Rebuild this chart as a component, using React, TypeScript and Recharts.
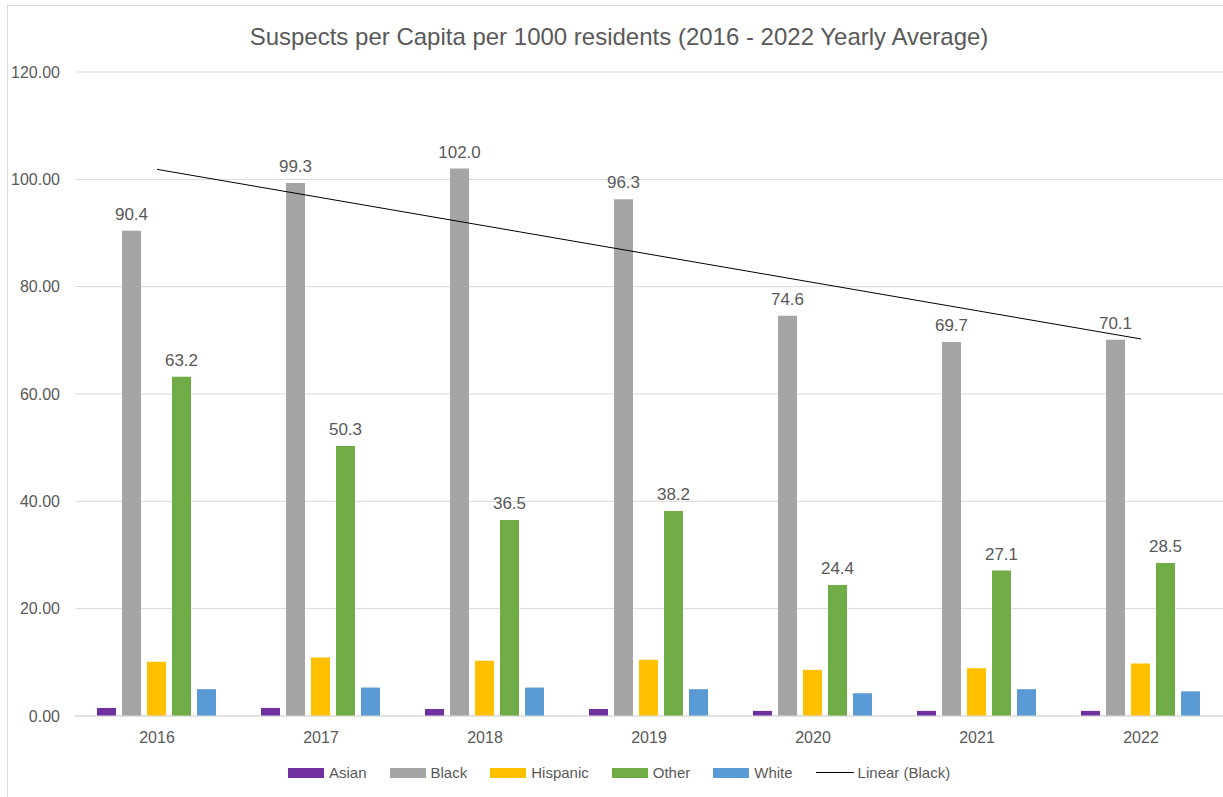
import { Bar, ComposedChart, CartesianGrid, LabelList, Legend, Line, XAxis, YAxis } from "recharts"

// values
const years = ["2016", "2017", "2018", "2019", "2020", "2021", "2022"]
const asian = [1.5, 1.5, 1.3, 1.3, 0.95, 0.95, 0.95]
const black = [90.4, 99.3, 102.0, 96.3, 74.6, 69.7, 70.1]
const hispanic = [10.1, 10.9, 10.3, 10.5, 8.6, 8.9, 9.8]
const other = [63.2, 50.3, 36.5, 38.2, 24.4, 27.1, 28.5]
const white = [5.0, 5.3, 5.3, 5.0, 4.25, 5.0, 4.6]
const yTicks = [0, 20, 40, 60, 80, 100, 120]

const FONT = "'Liberation Sans', Arial, sans-serif"
const TEXT = "#595959"

// least squares fit of the Black series, like Excel's "Linear (Black)" trendline
const fitLine = (ys: number[]) => {
  const n = ys.length
  const mx = (n - 1) / 2
  const my = ys.reduce((a, b) => a + b, 0) / n
  let num = 0
  let den = 0
  ys.forEach((y, i) => {
    num += (i - mx) * (y - my)
    den += (i - mx) * (i - mx)
  })
  const slope = num / den
  return ys.map((_, i) => my + slope * (i - mx))
}
const trend = fitLine(black)

const data = years.map((year, i) => ({
  year,
  asian: asian[i],
  black: black[i],
  hispanic: hispanic[i],
  other: other[i],
  white: white[i],
  trend: trend[i],
}))

const legendItems = [
  { name: "Asian", color: "#7030A0", line: false },
  { name: "Black", color: "#A5A5A5", line: false },
  { name: "Hispanic", color: "#FFC000", line: false },
  { name: "Other", color: "#70AD47", line: false },
  { name: "White", color: "#5B9BD5", line: false },
  { name: "Linear (Black)", color: "#000000", line: true },
]

const ChartLegend = () => (
  <div
    style={{
      display: "flex",
      alignItems: "center",
      paddingLeft: 280,
      marginTop: 8,
      fontFamily: FONT,
      fontSize: 15,
      color: TEXT,
    }}
  >
    {legendItems.map((item) => (
      <div key={item.name} style={{ display: "flex", alignItems: "center", marginRight: 23 }}>
        {item.line ? (
          <div style={{ width: 38, height: 1, background: item.color, marginRight: 4 }} />
        ) : (
          <div style={{ width: 36, height: 10, background: item.color, marginRight: 5 }} />
        )}
        <span>{item.name}</span>
      </div>
    ))}
  </div>
)

const labelStyle = { fill: TEXT, fontSize: 17, fontFamily: FONT }

export default function App() {
  return (
    <div
      style={{
        position: "fixed",
        left: 7,
        top: 5,
        width: 1240,
        height: 810,
        border: "1px solid #d9d9d9",
        background: "#fff",
      }}
    >
      <div
        style={{
          position: "absolute",
          top: 17,
          left: 0,
          width: 1222,
          textAlign: "center",
          fontFamily: FONT,
          fontSize: 24,
          color: TEXT,
        }}
      >
        Suspects per Capita per 1000 residents (2016 - 2022 Yearly Average)
      </div>
      <ComposedChart
        width={1215}
        height={791}
        data={data}
        margin={{ top: 66, right: 0, left: 0, bottom: 11 }}
        barCategoryGap={22}
        barGap={6}
      >
        <CartesianGrid vertical={false} stroke="#d9d9d9" />
        <XAxis
          dataKey="year"
          height={40}
          tickLine={false}
          axisLine={{ stroke: "#d9d9d9" }}
          tickMargin={10}
          tick={{ fill: TEXT, fontSize: 16, fontFamily: FONT }}
        />
        <YAxis
          width={67}
          domain={[0, 120]}
          ticks={yTicks}
          axisLine={false}
          tickLine={false}
          tickMargin={9}
          tickFormatter={(v: number) => v.toFixed(2)}
          tick={{ fill: TEXT, fontSize: 16, fontFamily: FONT }}
        />
        <Legend verticalAlign="bottom" height={30} content={() => <ChartLegend />} />
        <Bar dataKey="asian" name="Asian" fill="#7030A0" isAnimationActive={false} />
        <Bar dataKey="black" name="Black" fill="#A5A5A5" isAnimationActive={false}>
          <LabelList
            dataKey="black"
            position="top"
            offset={11}
            formatter={(v: number) => v.toFixed(1)}
            style={labelStyle}
          />
        </Bar>
        <Bar dataKey="hispanic" name="Hispanic" fill="#FFC000" isAnimationActive={false} />
        <Bar dataKey="other" name="Other" fill="#70AD47" isAnimationActive={false}>
          <LabelList
            dataKey="other"
            position="top"
            offset={11}
            formatter={(v: number) => v.toFixed(1)}
            style={labelStyle}
          />
        </Bar>
        <Bar dataKey="white" name="White" fill="#5B9BD5" isAnimationActive={false} />
        <Line
          dataKey="trend"
          name="Linear (Black)"
          stroke="#000"
          strokeWidth={1}
          dot={false}
          activeDot={false}
          isAnimationActive={false}
        />
      </ComposedChart>
    </div>
  )
}
